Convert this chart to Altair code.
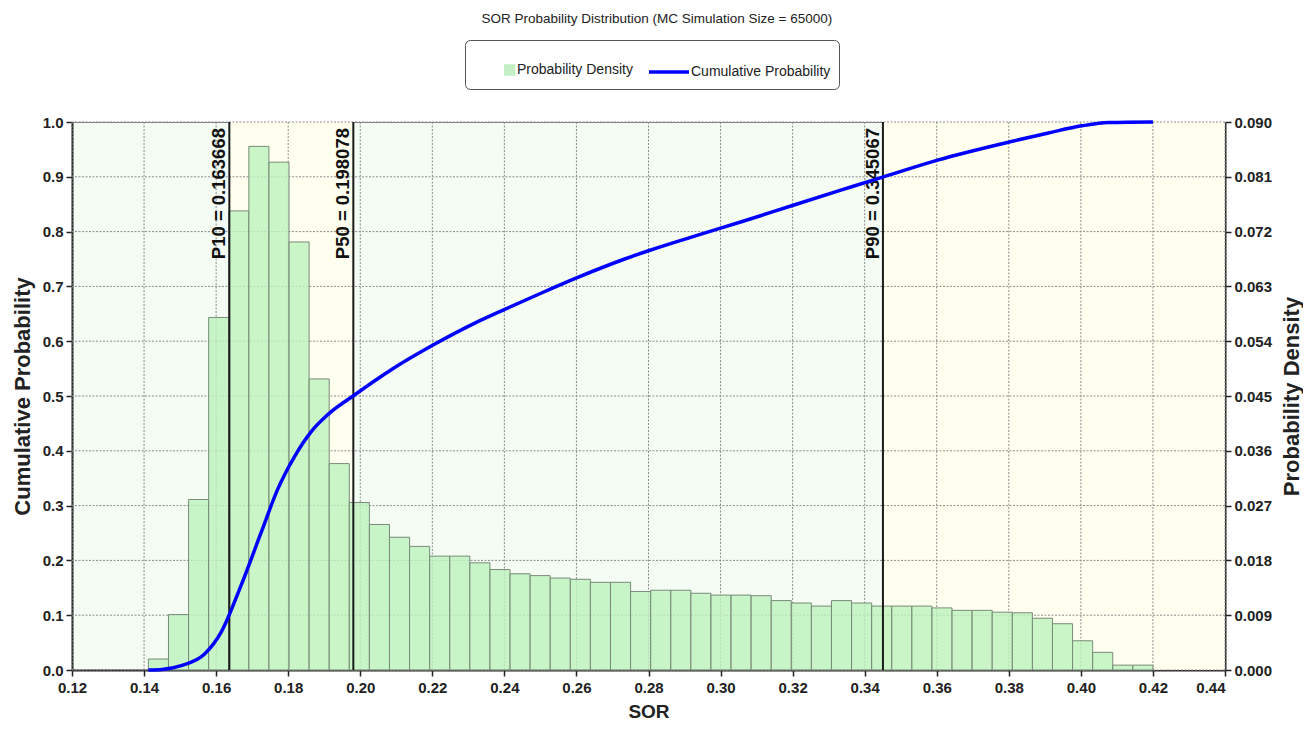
import altair as alt
import pandas as pd

FONT = "Liberation Sans"
TITLE = "SOR Probability Distribution (MC Simulation Size = 65000)"
SERIES = ["Probability Density", "Cumulative Probability"]

X_MIN, X_MAX = 0.12, 0.44
X_TICKS = [0.12, 0.14, 0.16, 0.18, 0.20, 0.22, 0.24, 0.26, 0.28, 0.30,
           0.32, 0.34, 0.36, 0.38, 0.40, 0.42, 0.44]
CUM_TICKS = [0.0, 0.1, 0.2, 0.3, 0.4, 0.5, 0.6, 0.7, 0.8, 0.9, 1.0]
DEN_TICKS = [0.0, 0.009, 0.018, 0.027, 0.036, 0.045, 0.054, 0.063, 0.072, 0.081, 0.090]

# histogram: 50 equal bins starting at BIN_START
BIN_START = 0.1412
BIN_WIDTH = 0.005576
DENSITY = [0.0018, 0.0091, 0.0280, 0.0579, 0.0754, 0.0860, 0.0834, 0.0703, 0.0478, 0.0339,
           0.0275, 0.0239, 0.0218, 0.0203, 0.0187, 0.0187, 0.0176, 0.0165, 0.0158, 0.0155,
           0.0151, 0.0149, 0.0144, 0.0144, 0.0129, 0.0131, 0.0131, 0.0126, 0.0123, 0.0123,
           0.0122, 0.0114, 0.0110, 0.0105, 0.0114, 0.0110, 0.0105, 0.0105, 0.0105, 0.0102,
           0.0098, 0.0098, 0.0095, 0.0094, 0.0085, 0.0076, 0.0048, 0.0029, 0.0008, 0.0008]

# cumulative probability curve
CUM_X = [0.1412, 0.1450, 0.1503, 0.1568, 0.1614, 0.1669, 0.1725, 0.1771, 0.1818, 0.1864,
         0.1910, 0.1980, 0.2086, 0.2202, 0.2318, 0.2401, 0.2503, 0.2602, 0.2734, 0.2804,
         0.2919, 0.3058, 0.3206, 0.3336, 0.3452, 0.3605, 0.3804, 0.3910, 0.4003, 0.4077, 0.4200]
CUM_Y = [0.000, 0.001, 0.008, 0.029, 0.069, 0.154, 0.251, 0.330, 0.390, 0.435,
         0.466, 0.500, 0.548, 0.593, 0.633, 0.658, 0.688, 0.716, 0.750, 0.766,
         0.790, 0.818, 0.849, 0.876, 0.900, 0.931, 0.964, 0.980, 0.993, 0.999, 1.000]

P_NAMES = ["P10", "P50", "P90"]
P_VALUES = [0.163668, 0.198078, 0.345067]

bins = pd.DataFrame({
    "lo": [BIN_START + i * BIN_WIDTH for i in range(len(DENSITY))],
    "hi": [BIN_START + (i + 1) * BIN_WIDTH for i in range(len(DENSITY))],
    "density": DENSITY,
})
cum = pd.DataFrame({"sor": CUM_X, "cum": CUM_Y})
pct = pd.DataFrame({"p": P_VALUES,
                    "label": [f"{n} = {v:.6f}" for n, v in zip(P_NAMES, P_VALUES)]})
bands = pd.DataFrame({"b1": [P_VALUES[0], P_VALUES[2]], "b2": [P_VALUES[1], X_MAX]})
gx = pd.DataFrame({"t": X_TICKS})
gy = pd.DataFrame({"density": DEN_TICKS})
leg_df = pd.DataFrame({"series": SERIES, "sor": [0.0, 0.0], "cum": [0.5, 0.5]})

XS = alt.Scale(domain=[X_MIN, X_MAX], nice=False, zero=False, padding=0)
XAXIS = alt.Axis(values=X_TICKS, format=".2f", grid=False, labelPadding=4, titlePadding=7,
                 labelAlign={"condition": {"test": "datum.value > 0.435", "value": "right"},
                             "value": "center"})
CS = alt.Scale(domain=[0, 1], nice=False, padding=0)
CAXIS = alt.Axis(orient="left", values=CUM_TICKS, format=".1f", grid=False,
                 labelPadding=3, titlePadding=8)
DS = alt.Scale(domain=[0, 0.09], nice=False, padding=0)
DAXIS = alt.Axis(orient="right", values=DEN_TICKS, format=".3f", grid=False,
                 labelPadding=3, titlePadding=10, titleAngle=270, titleBaseline="top")


def X(field):
    return alt.X(field, type="quantitative", scale=XS, axis=XAXIS, title="SOR")


def YD(field):
    return alt.Y(field, type="quantitative", scale=DS, axis=DAXIS, title="Probability Density")


def YC(field):
    return alt.Y(field, type="quantitative", scale=CS, axis=CAXIS, title="Cumulative Probability")


GRID = dict(color="#8c8c8c", strokeDash=[2, 1.5], strokeWidth=1)

bg = alt.Chart(bands).mark_rect(fill="#fffff0").encode(x=X("b1"), x2="b2")

grid_x = alt.Chart(gx).mark_rule(**GRID).encode(x=X("t"))

grid_y = alt.Chart(gy).mark_rule(**GRID).encode(y=YD("density"))

bars = alt.Chart(bins).mark_rect(fill="#bdf3bd", fillOpacity=0.8, stroke="#7a8a7a",
                                 strokeWidth=1).encode(x=X("lo"), x2="hi", y=YD("density"),
                                                       y2=alt.datum(0))

density_group = alt.layer(grid_y, bars)

rules = alt.Chart(pct).mark_rule(color="#1a1a1a", strokeWidth=2).encode(x=X("p"))

labels = alt.Chart(pct).mark_text(angle=270, align="right", baseline="bottom", dx=-6, dy=0,
                                  font=FONT, fontSize=18.5, fontWeight="bold",
                                  color="#111111").encode(x=X("p"), y=alt.datum(1.0), text="label:N")

line = alt.Chart(cum).mark_line(color="#0000ff", strokeWidth=3.5,
                                interpolate="monotone").encode(x=X("sor"), y=YC("cum"))

SQ_PATH = "M0.54,-0.2H0.93V0.2H0.54Z"
LN_PATH = "M-1,0H1"
LEG = alt.Legend(title=None, orient="none", legendX=393, legendY=-82, direction="horizontal",
                 strokeColor="#555555", fillColor="#ffffff", cornerRadius=5, padding=8,
                 columnPadding=9, labelOffset=0, labelFontSize=14, labelFont=FONT,
                 labelColor="#222222", labelLimit=0, symbolSize=1600, symbolStrokeWidth=3.5,
                 symbolOpacity=1)

legend_pts = alt.Chart(leg_df).mark_point(filled=True, opacity=1, size=1600, strokeWidth=3.5,
                                          clip=True).encode(
    x=X("sor"), y=YC("cum"),
    fill=alt.Fill("series:N", scale=alt.Scale(domain=SERIES, range=["#c4efc4", "#0000ff"]), legend=LEG),
    stroke=alt.Stroke("series:N", scale=alt.Scale(domain=SERIES, range=["#c4efc4", "#0000ff"]), legend=LEG),
    shape=alt.Shape("series:N", scale=alt.Scale(domain=SERIES, range=[SQ_PATH, LN_PATH]), legend=LEG),
)

cum_group = alt.layer(rules, labels, line, legend_pts)

chart = alt.layer(bg, grid_x, density_group, cum_group).resolve_scale(
    y="independent"
).properties(
    width=1153, height=548,
    padding={"left": 3, "top": 4, "right": 0, "bottom": 0},
    title=alt.TitleParams(TITLE, font=FONT, fontSize=13.5, fontWeight="normal",
                          color="#222222", offset=14, anchor="middle", frame="bounds"),
).configure_view(
    fill="#f4fcf4", stroke="#808080", strokeWidth=1
).configure_axis(
    labelFont=FONT, labelFontSize=15, labelFontWeight="bold", labelColor="#222222",
    titleFont=FONT, titleFontSize=22, titleFontWeight="bold", titleColor="#222222",
    domainColor="#222222", domainWidth=2, tickColor="#222222", tickSize=6, tickWidth=1.5,
).configure_axisX(titleFontSize=19)

chart.save("out.html", embed_options={"renderer": "svg", "actions": False})
